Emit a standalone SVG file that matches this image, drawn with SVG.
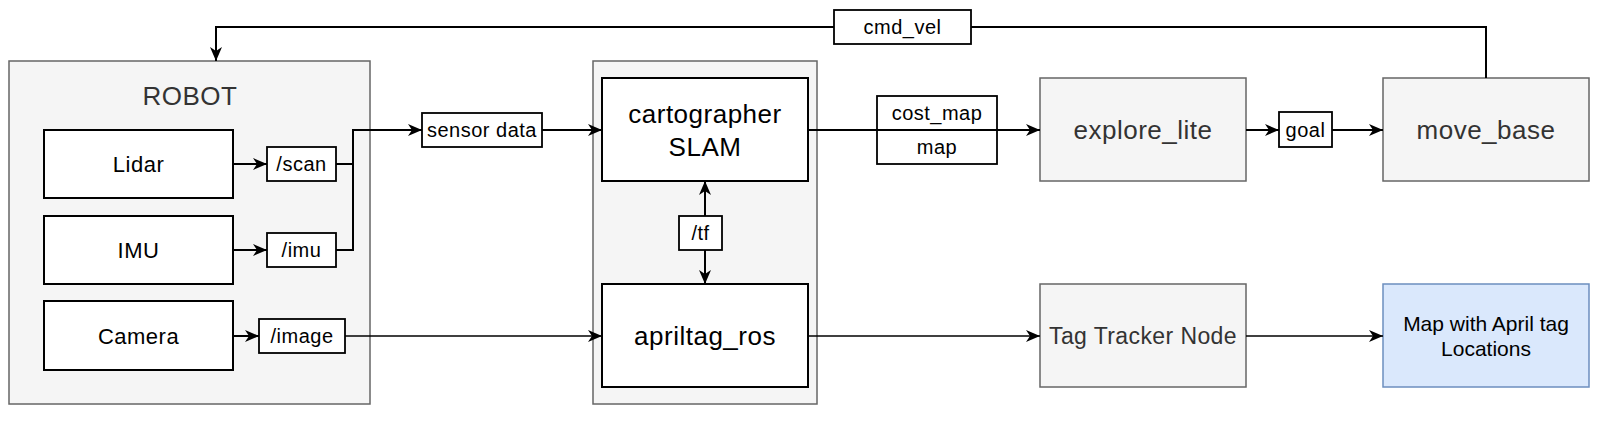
<svg xmlns="http://www.w3.org/2000/svg" width="1600" height="427" viewBox="0 0 1600 427">
<style>
text{font-family:"Liberation Sans",Arial,sans-serif;text-anchor:middle;dominant-baseline:central}
.gray{fill:#f5f5f5;stroke:#666666;stroke-width:1.5}
.white{fill:#ffffff;stroke:#000000;stroke-width:2}
.lbl{fill:#ffffff;stroke:#000000;stroke-width:1.8}
.blue{fill:#dae8fc;stroke:#6c8ebf;stroke-width:1.5}
.big{font-size:26px;letter-spacing:0.5px}
.mid{font-size:22px;letter-spacing:0.5px}
.sm{font-size:20px;letter-spacing:0.5px}
.g{fill:#333333}
.k{fill:#000000}
.c{fill:none;stroke:#000000;stroke-width:2}
.t{fill:none;stroke:#000000;stroke-width:1.4}
</style>
<defs>
<marker id="ar" markerUnits="userSpaceOnUse" markerWidth="15" markerHeight="13" refX="14" refY="6" orient="auto" overflow="visible">
<path d="M0,0 L14,6 L0,12 L4,6 Z" fill="#000000"/>
</marker>
</defs>
<rect width="1600" height="427" fill="#ffffff"/>

<g id="robot">
<rect class="gray" x="9" y="61" width="361" height="343"/>
<text class="big g" x="190" y="96">ROBOT</text>
</g>
<g id="slam-container">
<rect class="gray" x="593" y="61" width="224" height="343"/>
</g>
<g id="lidar"><rect class="white" x="44" y="130" width="189" height="68"/><text class="mid k" x="138.5" y="164">Lidar</text></g>
<g id="imu"><rect class="white" x="44" y="216" width="189" height="68"/><text class="mid k" x="138.5" y="250">IMU</text></g>
<g id="camera"><rect class="white" x="44" y="301" width="189" height="69"/><text class="mid k" x="138.5" y="336">Camera</text></g>
<g id="cartographer"><rect class="white" x="602" y="78" width="206" height="103"/><text class="big k" x="705" y="114">cartographer</text><text class="big k" x="705" y="147">SLAM</text></g>
<g id="apriltag"><rect class="white" x="602" y="284" width="206" height="103"/><text class="big k" x="705" y="336">apriltag_ros</text></g>
<g id="explore"><rect class="gray" x="1040" y="78" width="206" height="103"/><text class="big g" x="1143" y="130">explore_lite</text></g>
<g id="movebase"><rect class="gray" x="1383" y="78" width="206" height="103"/><text class="big g" x="1486" y="130">move_base</text></g>
<g id="tagtracker"><rect class="gray" x="1040" y="284" width="206" height="103"/><text class="g" x="1143" y="336" style="font-size:23px;letter-spacing:0.4px">Tag Tracker Node</text></g>
<g id="map"><rect class="blue" x="1383" y="284" width="206" height="103"/><text class="k" x="1486" y="323" style="font-size:21px">Map with April tag</text><text class="k" x="1486" y="348" style="font-size:21px">Locations</text></g>

<g id="connectors">
<path class="c" d="M1486,78 L1486,27 L216,27 L216,61" marker-end="url(#ar)"/>
<path class="c" d="M233,164 L267,164" marker-end="url(#ar)"/>
<path class="c" d="M233,250 L267,250" marker-end="url(#ar)"/>
<path class="c" d="M336,164 L353,164"/>
<path class="c" d="M336,250 L353,250 L353,130 L422,130" marker-end="url(#ar)"/>
<path class="c" d="M542,130 L602,130" marker-end="url(#ar)"/>
<path class="c" d="M233,336 L259,336" marker-end="url(#ar)"/>
<path class="t" d="M345,336 L602,336" marker-end="url(#ar)"/>
<path class="c" d="M705,216 L705,181" marker-end="url(#ar)"/>
<path class="c" d="M705,250 L705,284" marker-end="url(#ar)"/>
<rect class="lbl" x="877" y="96" width="120" height="68"/>
<path class="c" d="M808,130 L1040,130" marker-end="url(#ar)"/>
<path class="c" d="M1246,130 L1279,130" marker-end="url(#ar)"/>
<path class="c" d="M1332,130 L1383,130" marker-end="url(#ar)"/>
<path class="t" d="M808,336 L1040,336" marker-end="url(#ar)"/>
<path class="t" d="M1246,336 L1383,336" marker-end="url(#ar)"/>
</g>

<g id="labels">
<g id="lbl-cmdvel"><rect class="lbl" x="834" y="10" width="137" height="34"/><text class="sm k" x="902.5" y="27">cmd_vel</text></g>
<g id="lbl-scan"><rect class="lbl" x="267" y="147" width="69" height="34"/><text class="sm k" x="301.5" y="164">/scan</text></g>
<g id="lbl-imu"><rect class="lbl" x="267" y="233" width="69" height="34"/><text class="sm k" x="301.5" y="250">/imu</text></g>
<g id="lbl-image"><rect class="lbl" x="259" y="319" width="86" height="34"/><text class="sm k" x="302" y="336">/image</text></g>
<g id="lbl-sensor"><rect class="lbl" x="422" y="113" width="120" height="34"/><text class="sm k" x="482" y="130">sensor data</text></g>
<g id="lbl-tf"><rect class="lbl" x="679" y="216" width="43" height="34"/><text class="sm k" x="700.5" y="233">/tf</text></g>
<g id="lbl-costmap"><text class="sm k" x="937" y="113">cost_map</text><text class="sm k" x="937" y="147">map</text></g>
<g id="lbl-goal"><rect class="lbl" x="1279" y="112" width="53" height="35"/><text class="sm k" x="1305.5" y="129.5">goal</text></g>
</g>
</svg>
